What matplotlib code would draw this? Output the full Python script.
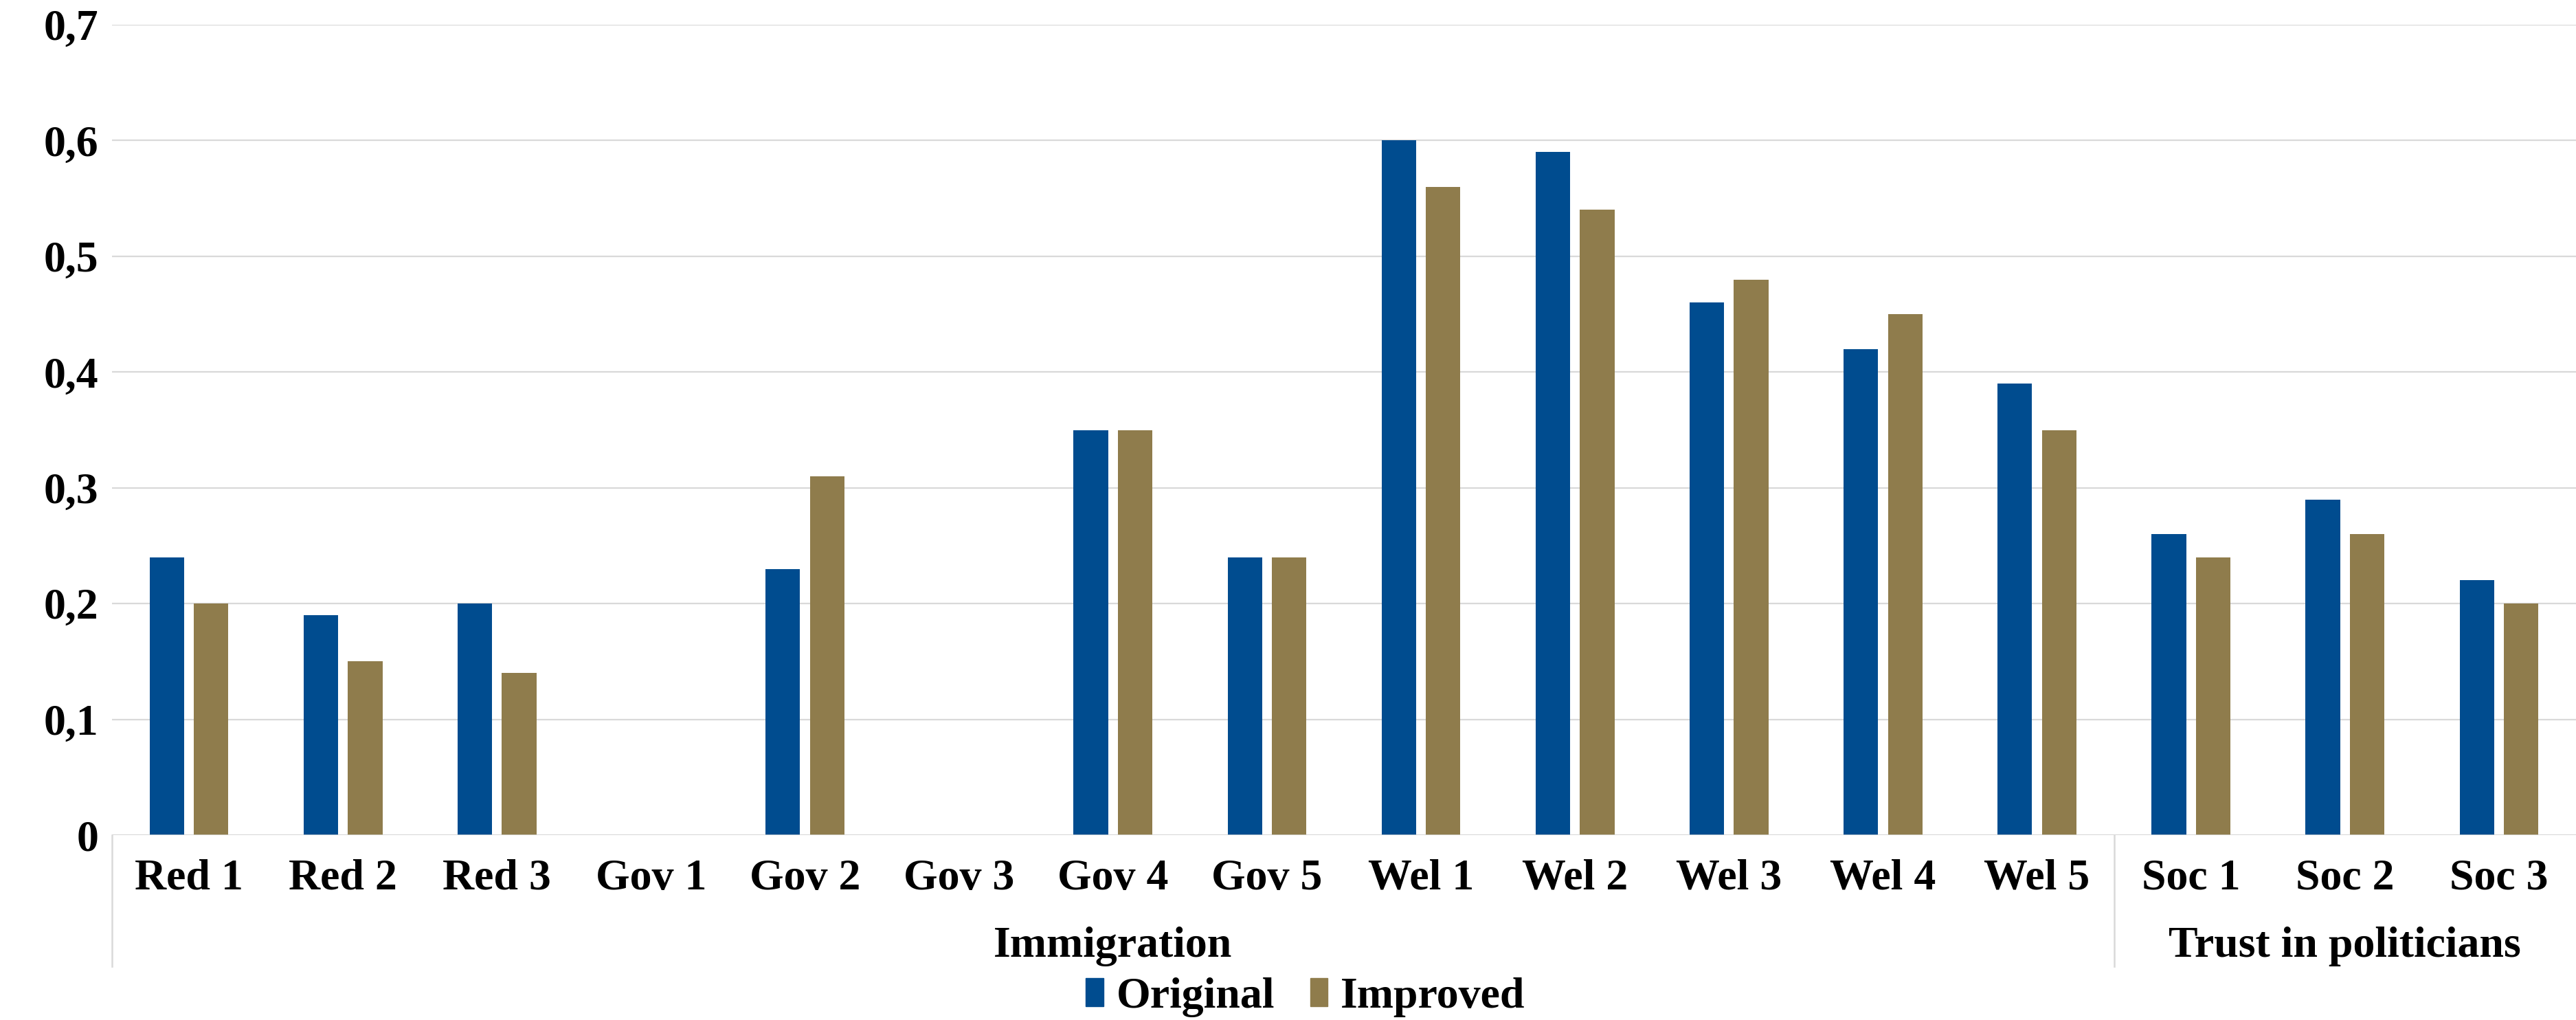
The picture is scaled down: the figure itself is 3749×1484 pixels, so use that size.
import matplotlib
matplotlib.use("Agg")
import matplotlib.pyplot as plt
import numpy as np
from matplotlib.patches import Patch

categories = ["Red 1", "Red 2", "Red 3", "Gov 1", "Gov 2", "Gov 3", "Gov 4", "Gov 5",
              "Wel 1", "Wel 2", "Wel 3", "Wel 4", "Wel 5", "Soc 1", "Soc 2", "Soc 3"]
original = [0.24, 0.19, 0.20, 0.0, 0.23, 0.0, 0.35, 0.24,
            0.60, 0.59, 0.46, 0.42, 0.39, 0.26, 0.29, 0.22]
improved = [0.20, 0.15, 0.14, 0.0, 0.31, 0.0, 0.35, 0.24,
            0.56, 0.54, 0.48, 0.45, 0.35, 0.24, 0.26, 0.20]
groups = ["Immigration", "Trust in politicians"]
group_sizes = [13, 3]
yticks = [0, 0.1, 0.2, 0.3, 0.4, 0.5, 0.6, 0.7]
ytick_labels = ["0", "0,1", "0,2", "0,3", "0,4", "0,5", "0,6", "0,7"]

BLUE = "#004C8F"
GOLD = "#8F7C4C"
GRID = "#D9D9D9"
FONT = "Liberation Serif"
FS = 46

W, H = 3749, 1484
fig = plt.figure(figsize=(W / 100, H / 100), dpi=100)
left, right, top, bottom = 163, 3749, 36, 1215
ax = fig.add_axes([left / W, (H - bottom) / H, (right - left) / W, (bottom - top) / H])

x = np.arange(len(categories))
bw = 0.224
gap = 0.064
off = (bw + gap) / 2
ax.bar(x - off, original, width=bw, color=BLUE, label="Original", zorder=3)
ax.bar(x + off, improved, width=bw, color=GOLD, label="Improved", zorder=3)

ax.set_xlim(-0.5, len(categories) - 0.5)
ax.set_ylim(0, 0.7)
ax.set_yticks(yticks)
ax.set_yticklabels(ytick_labels, fontfamily=FONT, fontweight="bold", fontsize=FS)
ax.tick_params(axis="y", length=0, pad=14)
ax.set_xticks([])
for s in ax.spines.values():
    s.set_visible(False)
ax.grid(axis="y", color=GRID, linewidth=1.6, zorder=0)
ax.axhline(0, color=GRID, linewidth=1.8, zorder=4)

xt = ax.get_xaxis_transform()
for xi, lab in zip(x, categories):
    ax.text(xi, -0.054, lab, transform=xt, ha="center", va="center",
            fontfamily=FONT, fontweight="bold", fontsize=FS)

# Group labels and separators
ax_h = bottom - top
sep_bottom = -(1406 - bottom) / ax_h
start = -0.5
bounds = [start]
for g, n in zip(groups, group_sizes):
    end = start + n
    ax.text((start + end) / 2, -(1377 - bottom) / ax_h, g, transform=xt,
            ha="center", va="center", fontfamily=FONT, fontweight="bold", fontsize=FS)
    start = end
    bounds.append(end)
for b in bounds[:-1]:
    ax.plot([b, b], [0, sep_bottom], transform=xt, color=GRID, linewidth=1.8,
            clip_on=False, zorder=4)

handles = [Patch(color=BLUE, label="Original"), Patch(color=GOLD, label="Improved")]
fig.legend(handles=handles, loc="center", bbox_to_anchor=(1900 / W, (H - 1451) / H),
           ncol=2, frameon=False, prop={"family": FONT, "weight": "bold", "size": FS},
           handlelength=0.4, handleheight=0.6, handletextpad=0.3, columnspacing=0.8)

fig.savefig("out.png", dpi=100)
